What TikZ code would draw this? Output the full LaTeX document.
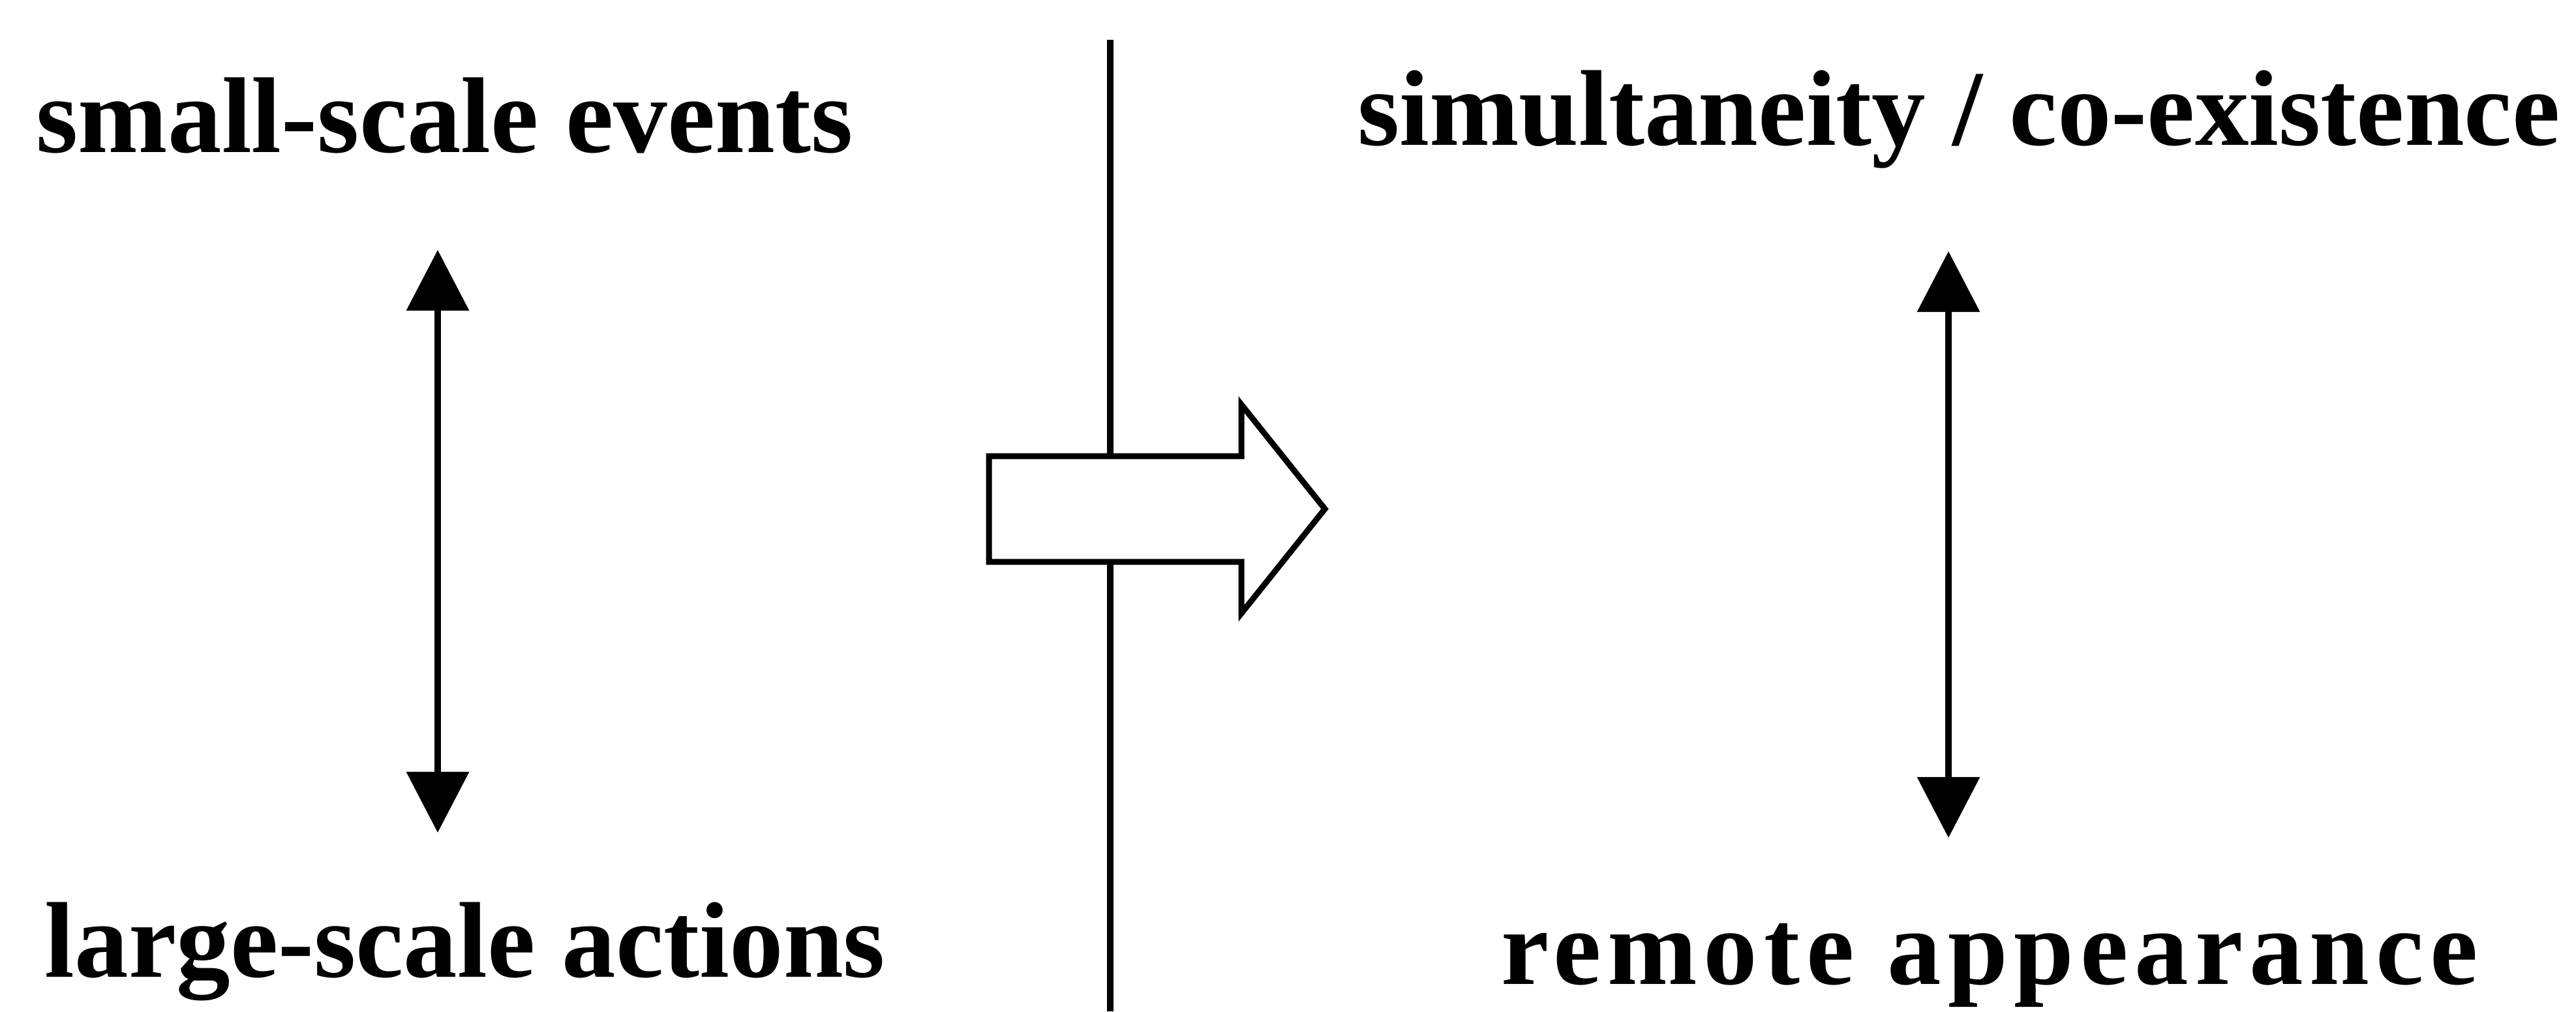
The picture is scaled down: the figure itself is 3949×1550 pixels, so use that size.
\documentclass[tikz,border=0pt]{standalone}
\usepackage{fontspec}
\setmainfont{Liberation Serif}
\newfontfamily\spacedfont[LetterSpace=6]{Liberation Serif}
\usetikzlibrary{arrows.meta}
\tikzset{
  lbl/.style={inner sep=0pt, font=\fontsize{46.95pt}{50pt}\selectfont\bfseries},
  dbl/.style={line width=0.1cm, {Triangle[length=0.93cm,width=0.94cm]}-{Triangle[length=0.93cm,width=0.94cm]}},
  divider/.style={line width=0.1cm},
  bigarrow/.style={line width=0.09cm, draw=black, fill=white, line join=miter}
}
\begin{document}
\begin{tikzpicture}[x=0.01cm,y=-0.01cm]
\useasboundingbox (0,0) rectangle (3949,1550);
% texts
\node[lbl, anchor=base west] (se) at (55,233) {small-scale events};
\node[lbl, anchor=base west] (la) at (68,1497) {large-scale actions};
\node[lbl, anchor=base east] (sc) at (3925,222) {simultaneity / co-existence};
\node[lbl, anchor=base, font=\fontsize{46.95pt}{50pt}\spacedfont\bfseries] (ra) at (3050,1508) {remote appearance};
% double arrows
\coordinate (l1) at (671,383);
\coordinate (l2) at (671,1276);
\draw[dbl] (l1) -- (l2);
\coordinate (r1) at (2987,385);
\coordinate (r2) at (2987,1284);
\draw[dbl] (r1) -- (r2);
% divider
\coordinate (d1) at (1702,61);
\coordinate (d2) at (1702,1550);
\draw[divider] (d1) -- (d2);
% open arrow
\draw[bigarrow] (1516,699) -- (1903,699) -- (1903,620) -- (2031,780) -- (1903,940) -- (1903,861) -- (1516,861) -- cycle;
\end{tikzpicture}
\end{document}
